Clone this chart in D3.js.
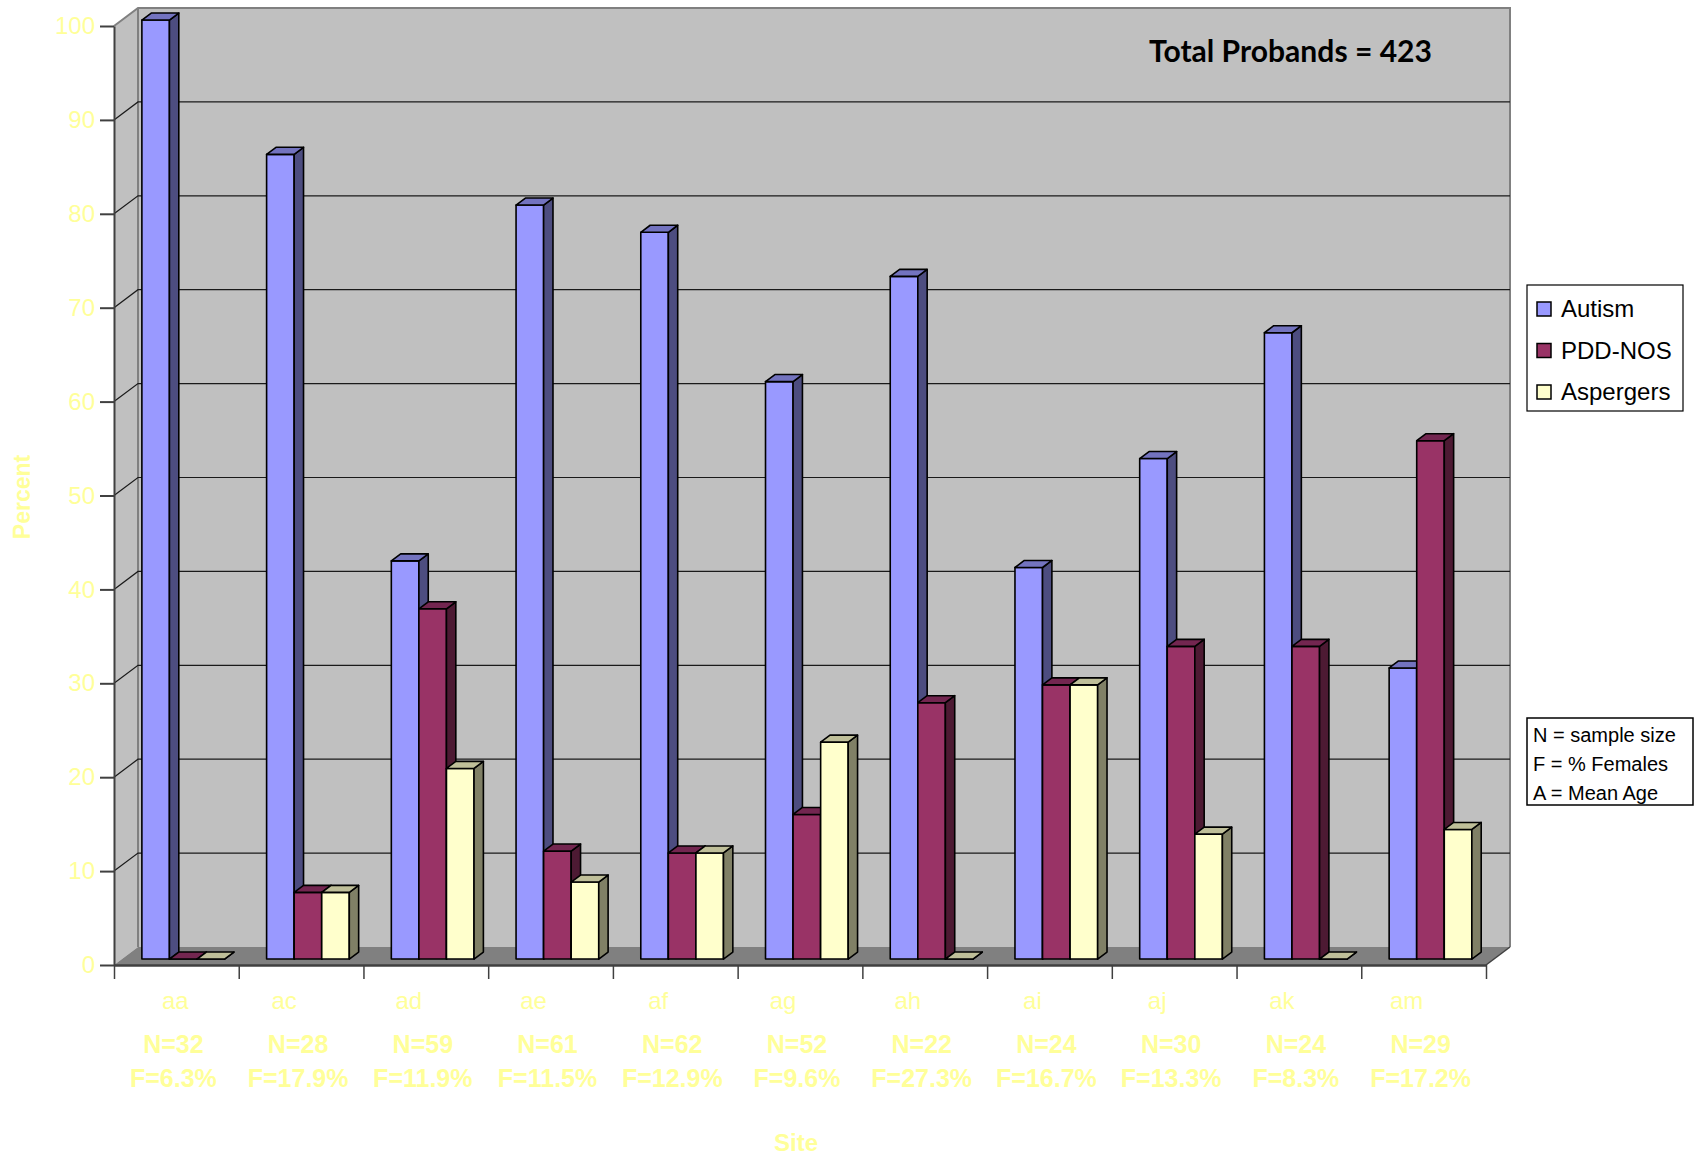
<!DOCTYPE html>
<html>
<head>
<meta charset="utf-8">
<script src="https://cdn.jsdelivr.net/npm/d3@7"></script>
<style>
  body { margin: 0; background: #fff; }
  svg { display: block; font-family: "Liberation Sans", Arial, sans-serif; }
</style>
</head>
<body>
<div id="chart"></div>
<script>
// data
const sites = ["aa", "ac", "ad", "ae", "af", "ag", "ah", "ai", "aj", "ak", "am"];
const sampleN = [32, 28, 59, 61, 62, 52, 22, 24, 30, 24, 29];
const pctFemale = ["6.3", "17.9", "11.9", "11.5", "12.9", "9.6", "27.3", "16.7", "13.3", "8.3", "17.2"];
const autism = [100, 85.7, 42.4, 80.3, 77.4, 61.5, 72.7, 41.7, 53.3, 66.7, 31.0];
const pddNos = [0, 7.1, 37.3, 11.5, 11.3, 15.4, 27.3, 29.2, 33.3, 33.3, 55.2];
const aspergers = [0, 7.1, 20.3, 8.2, 11.3, 23.1, 0, 29.2, 13.3, 0, 13.8];
const seriesNames = ["Autism", "PDD-NOS", "Aspergers"];
const yTicks = [0, 10, 20, 30, 40, 50, 60, 70, 80, 90, 100];
const notes = ["N = sample size", "F = % Females", "A = Mean Age"];

const seriesValues = [autism, pddNos, aspergers];
const colors = {
  "Autism":    { front: "#9999ff", side: "#4d4d80", top: "#7373bf" },
  "PDD-NOS":   { front: "#993366", side: "#4d1a33", top: "#732650" },
  "Aspergers": { front: "#ffffcc", side: "#808066", top: "#bfbf99" }
};
const labelColor = "#ffff99";

const width = 1701, height = 1158;
const depth = { dx: 24, dy: -18 };   // 3d depth of walls
const barZ = [0.33, 0.72];           // bars sit in this slice of the depth

const svg = d3.select("#chart").append("svg")
    .attr("width", width)
    .attr("height", height);

const y = d3.scaleLinear().domain([0, 100]).range([965, 26]);
const x = d3.scaleBand().domain(sites).range([114, 1486]);
const xEdge = d3.scaleLinear().domain([0, sites.length]).range([114, 1486]);
const barW = x.bandwidth() * 0.221;
const sub = d3.scaleBand().domain(seriesNames).range([0, 3 * barW]);

const x0 = x.range()[0], x1 = x.range()[1];
const yTop = y(100), yBase = y(0);
const p = (px, py, f = 1) => [px + f * depth.dx, py + f * depth.dy];
const poly = pts => "M" + pts.map(q => q.join(",")).join("L") + "Z";
const line = pts => "M" + pts.map(q => q.join(",")).join("L");

// walls and floor
svg.append("path")
    .attr("d", poly([[x0, yTop], p(x0, yTop), p(x0, yBase), [x0, yBase]]))
    .attr("fill", "#c0c0c0");
svg.append("path")
    .attr("d", poly([p(x0, yTop), p(x1, yTop), p(x1, yBase), p(x0, yBase)]))
    .attr("fill", "#c0c0c0");
svg.append("path")
    .attr("d", poly([[x0, yBase], [x1, yBase], p(x1, yBase), p(x0, yBase)]))
    .attr("fill", "#808080");

// wall edges
svg.append("path")
    .attr("d", line([[x0, yTop], p(x0, yTop), p(x1, yTop), p(x1, yBase)]))
    .attr("fill", "none").attr("stroke", "#808080").attr("stroke-width", 2);
svg.append("path")
    .attr("d", line([p(x0, yTop), p(x0, yBase)]))
    .attr("fill", "none").attr("stroke", "#808080").attr("stroke-width", 2);

// gridlines: diagonal on side wall + across back wall
const grid = svg.append("g").attr("stroke", "#1a1a1a").attr("stroke-width", 1.2).attr("fill", "none");
grid.selectAll("path")
    .data(yTicks.filter(v => v > 0 && v < 100))
    .join("path")
    .attr("d", v => line([[x0, y(v)], p(x0, y(v)), p(x1, y(v))]));

// floor right edge
svg.append("path")
    .attr("d", line([[x1, yBase], p(x1, yBase)]))
    .attr("stroke", "#404040").attr("stroke-width", 1.5).attr("fill", "none");

// bars
const bars = [];
sites.forEach((s, i) => {
  seriesNames.forEach((name, j) => {
    bars.push({ site: s, series: name, value: seriesValues[j][i] });
  });
});

const barG = svg.append("g").selectAll("g")
    .data(bars)
    .join("g")
    .attr("stroke", "#000")
    .attr("stroke-width", 1.6)
    .attr("stroke-linejoin", "round");

const geom = d => {
  const xl = x(d.site) + x.bandwidth() * 0.16 + sub(d.series);
  const xr = xl + barW;
  return { xl, xr, yt: y(d.value), yb: y(0) };
};

barG.append("path")
    .attr("fill", d => colors[d.series].front)
    .attr("d", d => {
      const g = geom(d);
      return poly([p(g.xl, g.yt, barZ[0]), p(g.xr, g.yt, barZ[0]), p(g.xr, g.yb, barZ[0]), p(g.xl, g.yb, barZ[0])]);
    });
barG.append("path")
    .attr("fill", d => colors[d.series].side)
    .attr("d", d => {
      const g = geom(d);
      return poly([p(g.xr, g.yt, barZ[0]), p(g.xr, g.yt, barZ[1]), p(g.xr, g.yb, barZ[1]), p(g.xr, g.yb, barZ[0])]);
    });
barG.append("path")
    .attr("fill", d => colors[d.series].top)
    .attr("d", d => {
      const g = geom(d);
      return poly([p(g.xl, g.yt, barZ[0]), p(g.xr, g.yt, barZ[0]), p(g.xr, g.yt, barZ[1]), p(g.xl, g.yt, barZ[1])]);
    });

// y axis
const yAxis = svg.append("g")
    .attr("transform", `translate(${x0},0)`)
    .call(d3.axisLeft(y).tickValues(yTicks).tickSize(14).tickSizeOuter(0).tickPadding(5));
yAxis.select(".domain").attr("stroke", "#404040").attr("stroke-width", 2);
yAxis.selectAll(".tick line").attr("stroke", "#404040").attr("stroke-width", 2);
yAxis.selectAll(".tick text")
    .attr("fill", labelColor)
    .style("font-size", "24px")
    .style("font-family", "'Liberation Sans', Arial, sans-serif");

// x axis (ticks at category edges)
const xAxis = svg.append("g")
    .attr("transform", `translate(0,${yBase})`)
    .call(d3.axisBottom(xEdge).tickValues(d3.range(sites.length + 1)).tickSize(14).tickSizeOuter(0).tickFormat(""));
xAxis.select(".domain").attr("stroke", "#404040").attr("stroke-width", 2.5);
xAxis.selectAll(".tick line").attr("stroke", "#404040").attr("stroke-width", 1.5);

// category labels
const catG = svg.append("g").attr("fill", labelColor).attr("text-anchor", "middle");
const cx = s => x(s) + x.bandwidth() / 2;
catG.selectAll(".site")
    .data(sites)
    .join("text")
    .attr("class", "site")
    .attr("x", (s, i) => cx(s) - (i === 0 ? 1 : 17))
    .attr("y", 1009)
    .style("font-size", "24px")
    .text(s => s);
catG.selectAll(".nlab")
    .data(sites)
    .join("text")
    .attr("class", "nlab")
    .attr("x", s => cx(s) - 3)
    .attr("y", 1053)
    .style("font-size", "25px")
    .style("font-weight", "bold")
    .text((s, i) => `N=${sampleN[i]}`);
catG.selectAll(".flab")
    .data(sites)
    .join("text")
    .attr("class", "flab")
    .attr("x", s => cx(s) - 3)
    .attr("y", 1087)
    .style("font-size", "25px")
    .style("font-weight", "bold")
    .text((s, i) => `F=${pctFemale[i]}%`);

// axis titles
svg.append("text")
    .attr("x", 796).attr("y", 1151)
    .attr("text-anchor", "middle")
    .attr("fill", labelColor)
    .style("font-size", "24px").style("font-weight", "bold")
    .text("Site");
svg.append("text")
    .attr("transform", "translate(30,497) rotate(-90)")
    .attr("text-anchor", "middle")
    .attr("fill", labelColor)
    .style("font-size", "23px").style("font-weight", "bold")
    .text("Percent");

// total annotation
svg.append("text")
    .attr("x", 1149).attr("y", 62)
    .attr("textLength", 283)
    .attr("lengthAdjust", "spacingAndGlyphs")
    .style("font-family", "Lato, 'Open Sans', sans-serif")
    .style("font-size", "30px").style("font-weight", "bold")
    .attr("fill", "#000")
    .text("Total Probands = 423");

// legend
const legend = svg.append("g").attr("transform", "translate(1527,285)");
legend.append("rect")
    .attr("width", 156).attr("height", 126)
    .attr("fill", "#fff").attr("stroke", "#000").attr("stroke-width", 1.2);
const li = legend.selectAll(".item")
    .data(seriesNames)
    .join("g")
    .attr("class", "item")
    .attr("transform", (d, i) => `translate(10,${24 + i * 41.5})`);
li.append("rect")
    .attr("x", 0).attr("y", -7).attr("width", 14).attr("height", 14)
    .attr("fill", d => colors[d].front)
    .attr("stroke", "#000").attr("stroke-width", 1.5);
li.append("text")
    .attr("x", 24).attr("dy", "0.35em")
    .style("font-size", "24px")
    .text(d => d);

// notes box
const noteG = svg.append("g").attr("transform", "translate(1527,718)");
noteG.append("rect")
    .attr("width", 166).attr("height", 87)
    .attr("fill", "#fff").attr("stroke", "#000").attr("stroke-width", 1.5);
noteG.selectAll("text")
    .data(notes)
    .join("text")
    .attr("x", 6)
    .attr("y", (d, i) => 17 + i * 29)
    .attr("dy", "0.35em")
    .style("font-size", "20px")
    .text(d => d);
</script>
</body>
</html>
